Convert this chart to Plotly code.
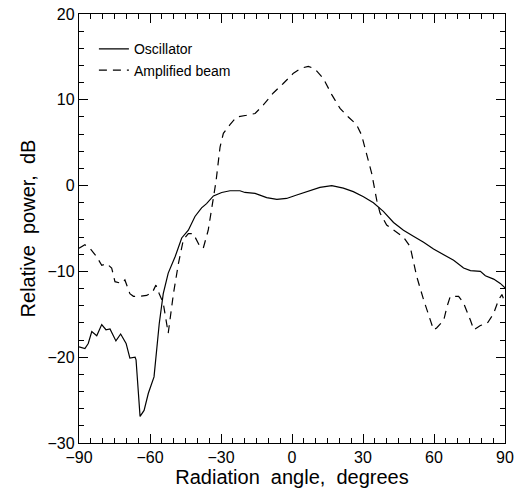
import plotly.graph_objects as go

# Oscillator (solid)
osc_angle = [-90, -87.5, -86.1, -84.6, -82.5, -80.4, -78.6, -76.9, -74.4, -72.4, -70.1, -68.5,
             -66.3, -65.9, -64.2, -62.5, -60.7, -58.3, -56.1, -54.4, -52.3, -49.4, -46.6, -43.8,
             -41.0, -38.2, -36.1, -33.2, -29.7, -26.2, -22.0, -19.9, -15.6, -10.7, -6.4, -2.3,
             2.0, 6.2, 11.8, 16.8, 21.7, 25.9, 30.2, 34.4, 38.6, 42.9, 47.1, 51.3, 55.6, 59.8,
             64.1, 68.3, 72.5, 75.4, 79.6, 81.7, 85.2, 88.0, 90]
osc_db = [-18.8, -19.0, -18.4, -17.0, -17.5, -16.2, -16.8, -16.7, -18.1, -17.3, -18.4, -20.1,
          -20.0, -20.3, -26.9, -26.2, -24.2, -22.3, -16.1, -12.6, -10.2, -8.3, -6.1, -5.2,
          -3.6, -2.6, -2.1, -1.2, -0.8, -0.6, -0.6, -0.8, -0.9, -1.4, -1.6, -1.5,
          -1.1, -0.7, -0.2, 0.0, -0.3, -0.7, -1.3, -2.0, -3.0, -4.3, -5.2, -5.9, -6.6, -7.4,
          -8.1, -8.7, -9.6, -9.9, -10.0, -10.5, -10.9, -11.4, -11.9]

# Amplified beam (dashed)
amp_angle = [-90, -87.5, -85.4, -82.5, -80.4, -78.3, -76.2, -74.8, -72.0, -70.6, -68.5, -67.0,
             -64.2, -61.4, -58.9, -57.5, -56.1, -54.4, -52.3, -50.1, -48.0, -45.9, -43.8, -41.7,
             -38.9, -37.5, -35.4, -33.2, -32.1, -30.4, -29.0, -26.2, -23.4, -19.2, -15.6, -12.1,
             -7.9, -3.7, 0.6, 4.1, 6.9, 9.7, 13.2, 16.8, 20.3, 23.8, 27.3, 29.4, 31.5, 33.7,
             35.8, 37.2, 40.0, 42.9, 47.1, 49.9, 52.7, 55.6, 58.4, 59.8, 61.1, 64.1, 65.5, 66.9,
             70.4, 72.5, 75.4, 76.8, 79.6, 82.4, 85.2, 87.3, 88.7, 90]
amp_db = [-7.3, -6.9, -7.3, -8.3, -9.3, -9.1, -9.6, -11.2, -11.4, -11.0, -12.6, -12.9,
          -12.9, -12.8, -12.4, -11.6, -12.6, -13.7, -17.2, -12.6, -9.1, -6.3, -5.6, -5.6,
          -7.1, -7.3, -5.2, -1.3, 0.5, 4.5, 6.1, 7.1, 8.0, 8.2, 8.4, 9.4,
          10.8, 11.9, 13.1, 13.7, 13.9, 13.6, 12.5, 10.6, 9.0, 8.0, 7.1, 5.9, 3.8, 1.4,
          -1.7, -3.2, -4.6, -5.2, -6.0, -7.1, -10.6, -13.3, -15.7, -16.8, -16.6, -15.7, -14.1, -12.9,
          -12.9, -13.7, -15.7, -16.8, -16.3, -16.1, -14.9, -13.3, -12.7, -13.6]

X_TICK_STEP = 30
Y_TICK_STEP = 10

FONT = "Liberation Sans"

fig = go.Figure()
fig.add_trace(go.Scatter(x=osc_angle, y=osc_db, mode="lines", name="Oscillator",
                         line=dict(color="black", width=1.2)))
fig.add_trace(go.Scatter(x=amp_angle, y=amp_db, mode="lines", name="Amplified beam",
                         line=dict(color="black", width=1.2, dash="8px,6px")))

fig.update_xaxes(range=[-90, 90], dtick=X_TICK_STEP, tick0=-90,
                 showline=True, linecolor="black", linewidth=1.3, mirror="allticks",
                 ticks="inside", ticklen=9, tickwidth=1.3, tickcolor="black",
                 showgrid=False, zeroline=False, automargin="height+bottom",
                 tickfont=dict(family=FONT, size=16, color="black"),
                 minor=dict(dtick=5, ticks="inside", ticklen=5, tickcolor="black"),
                 title=dict(text="Radiation  angle,  degrees", font=dict(family=FONT, size=20, color="black"),
                            standoff=0))
fig.update_yaxes(range=[-30, 20], dtick=Y_TICK_STEP, tick0=-30,
                 showline=True, linecolor="black", linewidth=1.3, mirror="allticks",
                 ticks="inside", ticklen=9, tickwidth=1.3, tickcolor="black",
                 showgrid=False, zeroline=False, automargin="width+left",
                 tickfont=dict(family=FONT, size=16, color="black"),
                 minor=dict(dtick=2, ticks="inside", ticklen=5, tickcolor="black"),
                 title=dict(text="Relative  power,  dB", font=dict(family=FONT, size=20, color="black"),
                            standoff=6))

fig.update_layout(
    width=517, height=491,
    margin=dict(l=79, r=12, t=14, b=48),
    plot_bgcolor="white", paper_bgcolor="white",
    showlegend=True,
    legend=dict(x=0.035, y=0.955, xanchor="left", yanchor="top",
                font=dict(family=FONT, size=14, color="black"),
                bgcolor="rgba(0,0,0,0)", tracegroupgap=0, itemwidth=30),
)

fig.write_html("out.html")
